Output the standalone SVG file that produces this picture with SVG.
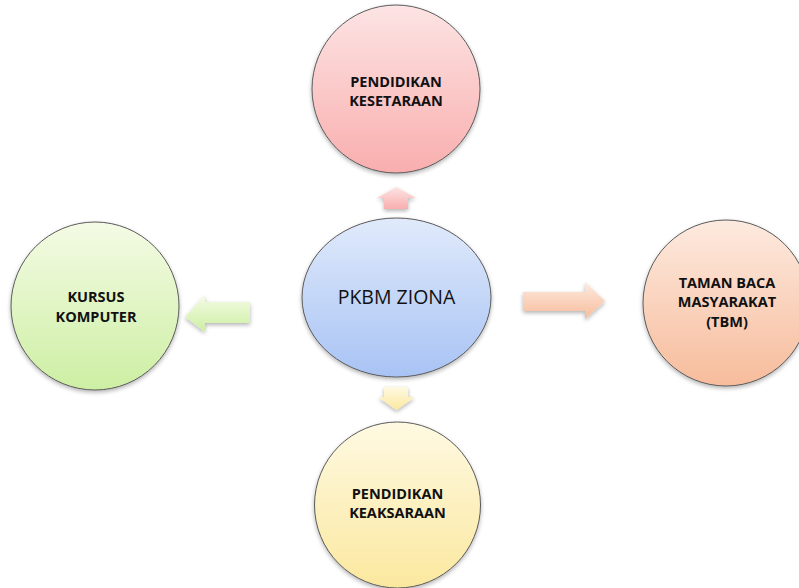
<svg xmlns="http://www.w3.org/2000/svg" width="799" height="588" viewBox="0 0 799 588">
<defs>
<linearGradient id="gPink" x1="0" y1="0" x2="0" y2="1"><stop offset="0" stop-color="#fde4e4"/><stop offset="1" stop-color="#f9aeae"/></linearGradient>
<linearGradient id="gBlue" x1="0" y1="0" x2="0" y2="1"><stop offset="0" stop-color="#e0eafb"/><stop offset="1" stop-color="#a8c3f4"/></linearGradient>
<linearGradient id="gGreen" x1="0" y1="0" x2="0" y2="1"><stop offset="0" stop-color="#f4fbe5"/><stop offset="1" stop-color="#cdefa3"/></linearGradient>
<linearGradient id="gOrange" x1="0" y1="0" x2="0" y2="1"><stop offset="0" stop-color="#fdeadf"/><stop offset="1" stop-color="#f7bc9c"/></linearGradient>
<linearGradient id="gYellow" x1="0" y1="0" x2="0" y2="1"><stop offset="0" stop-color="#fef9e2"/><stop offset="1" stop-color="#fbe89f"/></linearGradient>
<filter id="sh" x="-20%" y="-20%" width="140%" height="140%"><feGaussianBlur in="SourceAlpha" stdDeviation="2"/><feOffset dy="2"/><feComponentTransfer><feFuncA type="linear" slope="0.3"/></feComponentTransfer><feMerge><feMergeNode/><feMergeNode in="SourceGraphic"/></feMerge></filter>
</defs>
<style>
.node{stroke:#5a5a5a;stroke-width:1;filter:url(#sh)}
.lbl{font-family:"Open Sans","Liberation Sans",sans-serif;font-weight:bold;font-size:14.5px;fill:#111;text-anchor:middle}
.ctr{font-family:"Open Sans","Liberation Sans",sans-serif;font-size:19.5px;fill:#111;text-anchor:middle}
.arr{filter:url(#sh)}
</style>
<rect width="799" height="588" fill="#fff"/>
<g id="connectors">
<polygon class="arr" fill="url(#gPink)" points="384,209 384,198 377,198 396.5,187 416,198 408,198 408,209"/>
<polygon class="arr" fill="url(#gYellow)" points="384,387 408,387 408,397 415,397 396.5,410 378,397 384,397"/>
<polygon class="arr" fill="url(#gGreen)" points="250,302 205,302 205,295 185,317 205,332 205,323 250,323"/>
<polygon class="arr" fill="url(#gOrange)" points="523,292 585,292 585,282 605,301 585,319 585,311 523,311"/>
</g>
<g id="pendidikan-kesetaraan">
<circle class="node" cx="396" cy="89" r="84" fill="url(#gPink)"/>
<text class="lbl" x="396" y="87">PENDIDIKAN</text>
<text class="lbl" x="396" y="106">KESETARAAN</text>
</g>
<g id="pkbm-ziona">
<ellipse class="node" cx="396.5" cy="297.5" rx="94.5" ry="79.5" fill="url(#gBlue)"/>
<text class="ctr" x="396.5" y="304">PKBM ZIONA</text>
</g>
<g id="kursus-komputer">
<circle class="node" cx="95" cy="306" r="84" fill="url(#gGreen)"/>
<text class="lbl" x="96" y="302">KURSUS</text>
<text class="lbl" x="96" y="322">KOMPUTER</text>
</g>
<g id="taman-baca">
<circle class="node" cx="726" cy="303" r="83" fill="url(#gOrange)"/>
<text class="lbl" x="727" y="288">TAMAN BACA</text>
<text class="lbl" x="727" y="307">MASYARAKAT</text>
<text class="lbl" x="727" y="327">(TBM)</text>
</g>
<g id="pendidikan-keaksaraan">
<circle class="node" cx="397.5" cy="505" r="83" fill="url(#gYellow)"/>
<text class="lbl" x="397.5" y="499">PENDIDIKAN</text>
<text class="lbl" x="397.5" y="518">KEAKSARAAN</text>
</g>
</svg>
